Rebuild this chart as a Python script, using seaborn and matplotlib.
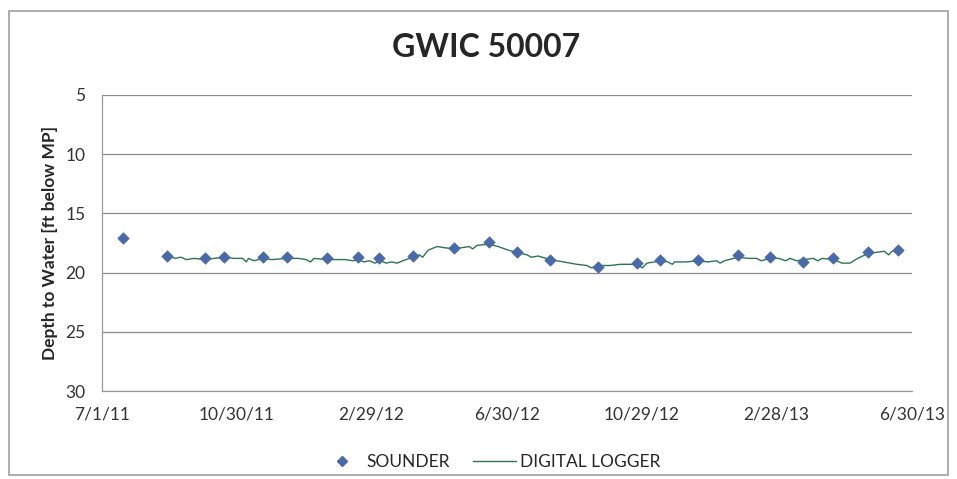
import pandas as pd
import seaborn as sns
import matplotlib.pyplot as plt
from matplotlib.lines import Line2D
from matplotlib.patches import Rectangle

# Sounder measurements (depth to water, ft below MP)
sounder_dates = ["2011-07-20", "2011-08-29", "2011-10-02", "2011-10-19", "2011-11-23",
                 "2011-12-15", "2012-01-20", "2012-02-17", "2012-03-07", "2012-04-06",
                 "2012-05-13", "2012-06-14", "2012-07-09", "2012-08-08", "2012-09-20",
                 "2012-10-25", "2012-11-15", "2012-12-19", "2013-01-24", "2013-02-22",
                 "2013-03-24", "2013-04-20", "2013-05-21", "2013-06-17"]
sounder_depth = [17.1, 18.6, 18.8, 18.7, 18.7, 18.7, 18.8, 18.7, 18.8, 18.6,
                 17.9, 17.4, 18.3, 18.9, 19.5, 19.2, 18.9, 18.9, 18.5, 18.7,
                 19.1, 18.8, 18.3, 18.1]

# Digital logger trace
logger_dates = ["2011-08-29", "2011-09-05", "2011-09-10", "2011-09-15", "2011-09-22",
                "2011-10-02", "2011-10-10", "2011-10-19", "2011-10-28", "2011-11-05",
                "2011-11-08", "2011-11-10", "2011-11-15", "2011-11-23", "2011-12-01",
                "2011-12-15", "2011-12-25", "2012-01-01", "2012-01-05", "2012-01-08",
                "2012-01-20", "2012-01-28", "2012-02-05", "2012-02-12", "2012-02-17",
                "2012-02-22", "2012-02-27", "2012-03-03", "2012-03-08", "2012-03-13",
                "2012-03-18", "2012-03-23", "2012-03-28", "2012-04-06", "2012-04-12",
                "2012-04-15", "2012-04-20", "2012-04-28", "2012-05-05", "2012-05-13",
                "2012-05-20", "2012-05-27", "2012-05-30", "2012-06-03", "2012-06-14",
                "2012-06-22", "2012-07-01", "2012-07-09", "2012-07-18", "2012-07-22",
                "2012-07-28", "2012-08-08", "2012-08-20", "2012-09-01", "2012-09-10",
                "2012-09-14", "2012-09-20", "2012-10-01", "2012-10-10", "2012-10-25",
                "2012-10-30", "2012-11-03", "2012-11-10", "2012-11-15", "2012-11-22",
                "2012-11-26", "2012-11-28", "2012-12-08", "2012-12-19", "2012-12-28",
                "2013-01-05", "2013-01-08", "2013-01-12", "2013-01-24", "2013-02-03",
                "2013-02-10", "2013-02-14", "2013-02-22", "2013-03-02", "2013-03-08",
                "2013-03-12", "2013-03-18", "2013-03-24", "2013-04-02", "2013-04-06",
                "2013-04-10", "2013-04-20", "2013-04-28", "2013-05-05", "2013-05-12",
                "2013-05-21", "2013-05-28", "2013-06-05", "2013-06-09", "2013-06-12",
                "2013-06-17"]
logger_depth = [18.6, 18.8, 18.7, 18.9, 18.8,
                18.9, 18.8, 18.7, 18.8, 18.8,
                19.1, 18.8, 19.0, 18.8, 18.9,
                18.8, 18.8, 18.9, 19.1, 18.8,
                18.9, 18.9, 18.9, 19.0, 18.9,
                19.1, 19.0, 19.2, 19.0, 19.2,
                19.1, 19.2, 19.0, 18.7, 18.5,
                18.7, 18.1, 17.8, 17.9, 18.0,
                17.9, 17.8, 18.0, 17.7, 17.6,
                17.8, 18.1, 18.3, 18.5, 18.7,
                18.6, 18.9, 19.1, 19.3, 19.4,
                19.6, 19.4, 19.4, 19.3, 19.3,
                19.6, 19.2, 19.1, 19.0, 19.1,
                19.3, 19.1, 19.1, 19.0, 19.1,
                19.0, 19.2, 19.0, 18.7, 18.8,
                18.8, 19.0, 18.8, 18.8, 19.0,
                18.8, 19.0, 18.9, 18.8, 19.0,
                18.8, 18.9, 19.2, 19.2, 18.8,
                18.4, 18.3, 18.2, 18.5, 18.2,
                18.1]

tick_labels = ["7/1/11", "10/30/11", "2/29/12", "6/30/12", "10/29/12", "2/28/13", "6/30/13"]
tick_dates = ["2011-07-01", "2011-10-30", "2012-02-29", "2012-06-30", "2012-10-29", "2013-02-28", "2013-06-30"]

sounder = pd.DataFrame({"date": pd.to_datetime(sounder_dates), "depth": sounder_depth})
logger = pd.DataFrame({"date": pd.to_datetime(logger_dates), "depth": logger_depth})

sns.set_style("white")
plt.rcParams["font.family"] = ["Lato", "DejaVu Sans"]

fig = plt.figure(figsize=(9.57, 4.79), dpi=100)
ax = fig.add_axes([0.1066, 0.1837, 0.8464, 0.618])

line_color = "#2b7552"
point_color = "#4a69a8"

sns.lineplot(data=logger, x="date", y="depth", ax=ax, color=line_color, linewidth=1.0)
sns.scatterplot(data=sounder, x="date", y="depth", ax=ax, marker="D", s=34,
                color=point_color, edgecolor=point_color, linewidth=0.5, zorder=5)

ax.set_xlim(pd.Timestamp("2011-07-01"), pd.Timestamp("2013-06-30"))
ax.set_ylim(30, 5)
ax.set_yticks([5, 10, 15, 20, 25, 30])
ax.set_xticks(pd.to_datetime(tick_dates))
ax.set_xticklabels(tick_labels)
ax.tick_params(axis="both", labelsize=12.5, colors="#333333", length=0)
ax.tick_params(axis="x", pad=11)
ax.tick_params(axis="y", pad=12)

ax.grid(axis="y", color="#8c8c8c", linewidth=0.9)
for side in ["top", "right"]:
    ax.spines[side].set_visible(False)
for side in ["left", "bottom"]:
    ax.spines[side].set_color("#999999")
    ax.spines[side].set_linewidth(0.9)

ax.set_xlabel("")
ax.set_ylabel("Depth to Water [ft below MP]", fontsize=12.5, fontweight="bold", labelpad=5)
fig.text(0.508, 0.9, "GWIC 50007", ha="center", va="center", fontsize=23, fontweight="bold")

handles = [Line2D([], [], marker="D", linestyle="none", color=point_color, markersize=5),
           Line2D([], [], color=line_color, linewidth=1.0)]
fig.legend(handles, ["SOUNDER", "DIGITAL LOGGER"], loc="center", bbox_to_anchor=(0.512, 0.035),
           ncol=2, frameon=False, fontsize=12.5, handlelength=2.5, columnspacing=1.3,
           handletextpad=0.2)

fig.add_artist(Rectangle((0.009, 0.008), 0.982, 0.968, transform=fig.transFigure,
                         fill=False, edgecolor="#a0a0a0", linewidth=1.2))

fig.savefig("out.png", dpi=100)
